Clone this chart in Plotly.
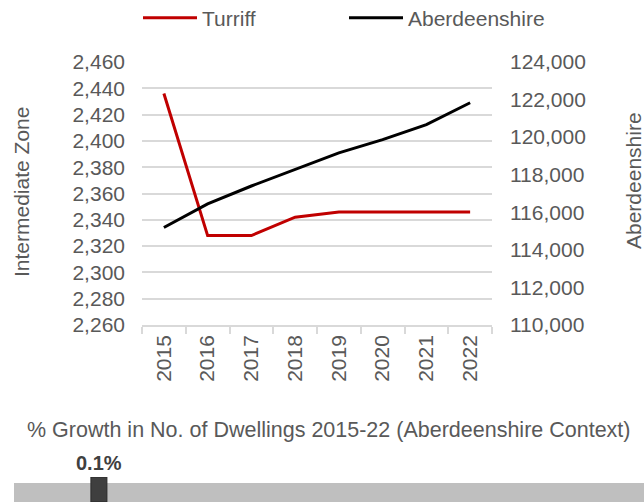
import plotly.graph_objects as go

years = ["2015", "2016", "2017", "2018", "2019", "2020", "2021", "2022"]
turriff = [2436, 2328, 2328, 2342, 2346, 2346, 2346, 2346]
aberdeenshire = [115190, 116450, 117400, 118270, 119160, 119870, 120670, 121830]

growth_value = 0.1
scale_min = -3.0
scale_max = 20.0

FONT = "Liberation Sans, Arial, sans-serif"
GREY = "#595959"
GRID = "#D9D9D9"
FS = 21

fig = go.Figure()

fig.add_trace(go.Scatter(x=years, y=turriff, name="Turriff", mode="lines",
                         line=dict(color="#C00000", width=3), xaxis="x", yaxis="y"))
fig.add_trace(go.Scatter(x=years, y=aberdeenshire, name="Aberdeenshire", mode="lines",
                         line=dict(color="#000000", width=3), xaxis="x", yaxis="y2"))

# growth slider
fig.add_trace(go.Bar(x=[scale_max - scale_min], base=[scale_min], y=[0.38], width=[0.76],
                     orientation="h", marker=dict(color="#BFBFBF", line=dict(width=0)),
                     showlegend=False, xaxis="x2", yaxis="y3", hoverinfo="skip"))
half_w = (scale_max - scale_min) * 8 / 630
fig.add_shape(type="rect", xref="x2", yref="y3", x0=growth_value - half_w, x1=growth_value + half_w,
              y0=0, y1=1, fillcolor="#3F3F3F", line=dict(color="#2A2A2A", width=1), layer="above")
fig.add_trace(go.Scatter(x=[growth_value], y=[0.86], mode="markers",
                         marker=dict(symbol="triangle-down", size=9, color="#7A7A7A"),
                         showlegend=False, xaxis="x2", yaxis="y3", hoverinfo="skip"))

fig.update_layout(
    width=644, height=502,
    margin=dict(l=14, r=0, t=62, b=0, autoexpand=False),
    paper_bgcolor="white", plot_bgcolor="white",
    font=dict(family=FONT, size=FS, color=GREY),
    showlegend=True,
    legend=dict(orientation="h", x=(138 - 14) / 630, xanchor="left", y=(502 - 18) / 440,
                yanchor="middle", itemwidth=54,
                font=dict(size=FS, color=GREY), entrywidth=137, entrywidthmode="pixels",
                bgcolor="rgba(0,0,0,0)"),
    xaxis=dict(domain=[128 / 630, 478 / 630], type="category", anchor="y", range=[-0.5, 7.5],
               tickangle=-90, showgrid=False, showline=True, linecolor=GRID, linewidth=1.5,
               ticks="outside", tickson="boundaries", ticklen=7, tickcolor=GRID, tickwidth=1.5,
               tickfont=dict(size=FS, color=GREY), zeroline=False, automargin=False),
    yaxis=dict(domain=[177 / 440, 1], range=[2260, 2460], dtick=20, tickformat=",d",
               showgrid=True, gridcolor=GRID, gridwidth=1.5, zeroline=False, showline=False,
               ticks="", ticklabelstandoff=16, tickfont=dict(size=FS, color=GREY), anchor="x",
               automargin=False),
    yaxis2=dict(overlaying="y", side="right", anchor="x", range=[110000, 124000], dtick=2000,
                tickformat=",d", showgrid=False, zeroline=False, showline=False, ticks="",
                ticklabelstandoff=17, tickfont=dict(size=FS, color=GREY), automargin=False),
    xaxis2=dict(domain=[0, 1], range=[scale_min, scale_max], anchor="y3", visible=False),
    yaxis3=dict(domain=[0, 25 / 440], range=[0, 1], anchor="x2", visible=False),
    bargap=0,
    annotations=[
        dict(text="Intermediate Zone", xref="paper", yref="paper", x=(22 - 14) / 630,
             y=(502 - 192) / 440, textangle=-90, showarrow=False, xanchor="center", yanchor="middle",
             font=dict(size=FS, color=GREY)),
        dict(text="Aberdeenshire", xref="paper", yref="paper", x=(633 - 14) / 630,
             y=(502 - 181) / 440, textangle=-90, showarrow=False, xanchor="center", yanchor="middle",
             font=dict(size=FS, color=GREY)),
        dict(text="% Growth in No. of Dwellings 2015-22 (Aberdeenshire Context)", xref="paper",
             yref="paper", x=(329 - 14) / 630, y=(502 - 430) / 440, showarrow=False,
             xanchor="center", yanchor="middle", font=dict(size=21.5, color=GREY)),
        dict(text="<b>%.1f%%</b>" % growth_value, xref="x2", yref="paper", x=growth_value,
             y=(502 - 463) / 440, showarrow=False, xanchor="center", yanchor="middle",
             font=dict(size=20, color="#404040")),
    ],
)

fig.write_html("out.html", config={"displayModeBar": False},
               post_script="document.body.style.margin='0';document.body.style.padding='0';")
